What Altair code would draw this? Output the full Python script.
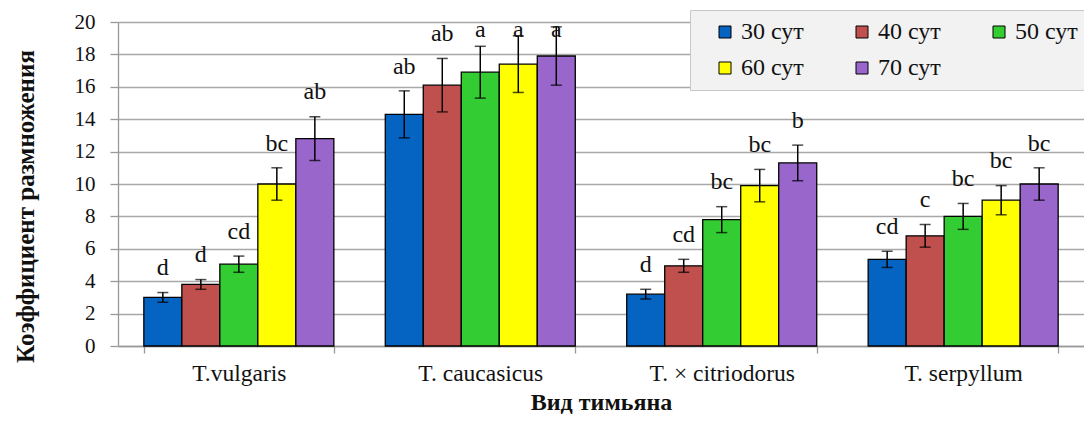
import altair as alt
import pandas as pd

species = ["T.vulgaris", "T. caucasicus", "T. × citriodorus", "T. serpyllum"]
days = ["30 сут", "40 сут", "50 сут", "60 сут", "70 сут"]
colors = ["#0563C1", "#C0504D", "#33CC33", "#FFFF00", "#9966CC"]

v30 = [3.0, 14.3, 3.2, 5.35]
v40 = [3.8, 16.1, 4.95, 6.8]
v50 = [5.05, 16.9, 7.8, 8.0]
v60 = [10.0, 17.4, 9.9, 9.0]
v70 = [12.8, 17.9, 11.3, 10.0]

e30 = [0.3, 1.45, 0.3, 0.5]
e40 = [0.3, 1.65, 0.4, 0.7]
e50 = [0.5, 1.6, 0.8, 0.8]
e60 = [1.0, 1.75, 1.0, 0.9]
e70 = [1.35, 1.8, 1.1, 1.0]

l30 = ["d", "ab", "d", "cd"]
l40 = ["d", "ab", "cd", "c"]
l50 = ["cd", "a", "bc", "bc"]
l60 = ["bc", "a", "bc", "bc"]
l70 = ["ab", "a", "b", "bc"]

vals = [v30, v40, v50, v60, v70]
errs = [e30, e40, e50, e60, e70]
lets = [l30, l40, l50, l60, l70]

rows = []
for d, vv, ee, ll in zip(days, vals, errs, lets):
    for s, v, e, l in zip(species, vv, ee, ll):
        rows.append({"species": s, "day": d, "value": v, "lo": v - e, "hi": v + e,
                     "letter": l, "ly": min(v + e + 1.5, 19.5)})
df = pd.DataFrame(rows)

FONT = "Liberation Serif"
YTITLE = "Коэффициент размножения"

x_enc = alt.X("species:N", sort=species,
              scale=alt.Scale(paddingInner=0.213, paddingOuter=0.107),
              axis=alt.Axis(title="Вид тимьяна", labelAngle=0, tickBand="extent",
                            tickSize=7, labelPadding=8, labelFontSize=23.5,
                            labelFont=FONT, labelColor="#111",
                            titleFont=FONT, titleFontSize=24, titleFontWeight="bold",
                            titleColor="#111", titleBaseline="middle", titleY=56,
                            domainColor="#999", tickColor="#999", domainWidth=1.3,
                            tickWidth=1.3, grid=False))
xo_enc = alt.XOffset("day:N", sort=days, scale=alt.Scale(paddingInner=0, paddingOuter=0))

y_axis = alt.Axis(values=list(range(0, 21, 2)), tickCount=11, tickSize=8, labelPadding=15,
                  labelOverlap=False,
                  labelFontSize=21, labelFont=FONT, labelColor="#111",
                  titleFont=FONT, titleFontSize=25, titleFontWeight="bold",
                  titleColor="#111", titleAngle=270, titleBaseline="middle",
                  titleX=-93, titleY=184, titleAlign="center",
                  grid=True, gridColor="#a8a8a8", gridWidth=1.3,
                  domainColor="#999", tickColor="#999", domainWidth=1.3, tickWidth=1.3)
y_scale = alt.Scale(domain=[0, 20], nice=False)

base = alt.Chart(df).encode(x=x_enc, xOffset=xo_enc)

bars = base.mark_bar(stroke="black", strokeWidth=1.3, opacity=1).encode(
    y=alt.Y("value:Q", scale=y_scale, axis=y_axis, title=YTITLE),
    color=alt.Color("day:N", sort=days, scale=alt.Scale(domain=days, range=colors),
                    legend=alt.Legend(title=None, orient="none", legendX=572, legendY=-12,
                                      columns=3, direction="horizontal",
                                      symbolType="square", symbolSize=144,
                                      symbolStrokeColor="black", symbolStrokeWidth=1,
                                      symbolOpacity=1, symbolOffset=13,
                                      labelFont=FONT, labelFontSize=24, labelColor="#111",
                                      labelOffset=4, columnPadding=33, rowPadding=12,
                                      padding=10, fillColor="#f2f2f2",
                                      strokeColor="#c8c8c8", labelLimit=200)),
)

rules = base.mark_rule(color="black", strokeWidth=1.5).encode(
    y=alt.Y("lo:Q", scale=y_scale, axis=y_axis, title=YTITLE), y2="hi:Q")
cap_hi = base.mark_tick(orient="horizontal", size=11, thickness=1.5, color="black").encode(
    y=alt.Y("hi:Q", scale=y_scale, axis=y_axis, title=YTITLE))
cap_lo = base.mark_tick(orient="horizontal", size=11, thickness=1.5, color="black").encode(
    y=alt.Y("lo:Q", scale=y_scale, axis=y_axis, title=YTITLE))
labels = base.mark_text(font=FONT, fontSize=24, color="#111", baseline="middle").encode(
    y=alt.Y("ly:Q", scale=y_scale, axis=y_axis, title=YTITLE), text="letter:N")

chart = alt.layer(bars, rules, cap_hi, cap_lo, labels).properties(
    width=966, height=324,
    autosize=alt.AutoSizeParams(type="none"),
    padding={"left": 110, "top": 14, "right": 0, "bottom": 69},
).configure_view(stroke=None).configure(background="white")

chart.save("out.html", embed_options={"renderer": "svg", "actions": False})
